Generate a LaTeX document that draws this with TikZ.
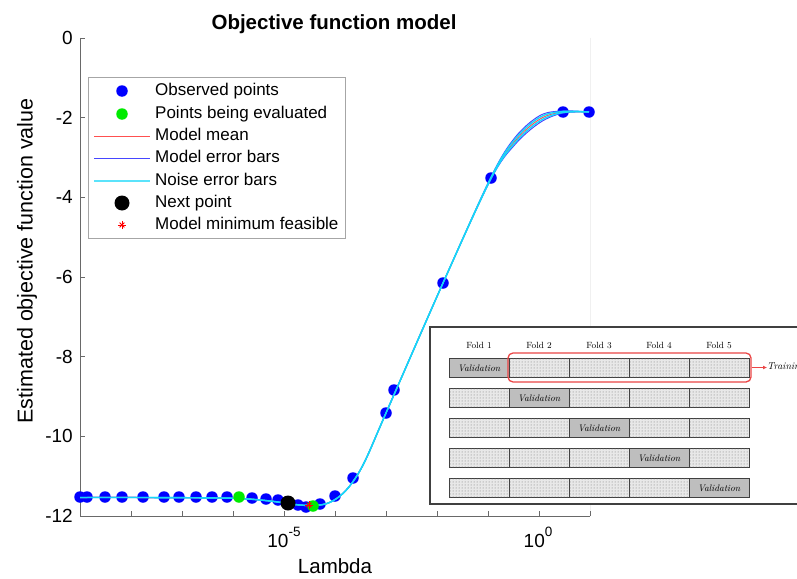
\documentclass[tikz,border=0pt]{standalone}
\usepackage{amsmath}
\usepackage{amssymb}
\usepackage{fontspec}
\newfontfamily\plotfont{Liberation Sans}
\usetikzlibrary{positioning,patterns,arrows.meta}

\definecolor{axisgray}{RGB}{105,105,105}
\definecolor{obsblue}{RGB}{0,0,255}
\definecolor{evalgreen}{RGB}{0,235,0}
\definecolor{meanred}{RGB}{255,80,80}
\definecolor{barblue}{RGB}{70,70,255}
\definecolor{noisecyan}{RGB}{20,215,250}
\definecolor{valgray}{RGB}{190,190,190}
\definecolor{cellgray}{RGB}{232,232,232}
\definecolor{boxred}{RGB}{235,70,70}

\tikzset{
  obs/.style={circle,fill=obsblue,inner sep=0pt,minimum size=11.5pt},
  evalpt/.style={circle,fill=evalgreen,inner sep=0pt,minimum size=11.5pt},
  nextpt/.style={circle,fill=black,inner sep=0pt,minimum size=15pt},
  ticklbl/.style={font=\plotfont\fontsize{19}{21}\selectfont,inner sep=0pt},
  legtxt/.style={font=\plotfont\fontsize{17}{19}\selectfont,anchor=west,inner sep=0pt,text height=12pt,text depth=3.5pt},
  fold/.style={font=\fontsize{9}{10}\selectfont,inner sep=0pt,anchor=base},
  trainc/.style={draw=black!75,line width=0.9pt,fill=cellgray,postaction={pattern=dots,pattern color=black!55},
    minimum width=60pt,minimum height=19pt,inner sep=0pt},
  valc/.style={draw=black!75,line width=0.9pt,fill=valgray,minimum width=60pt,minimum height=19pt,inner sep=0pt,
    font=\itshape\fontsize{9.5}{10}\selectfont},
}

% model curve, #1 = offset of the band near the plateau
\newcommand{\lambdacurve}[1]{plot[smooth,tension=0.55] coordinates {(80,497.5) (140,497.5) (200,497.8) (240,498.5)
  (270,501) (295,504.5) (312,505.5) (327,503.5) (340,496) (352,483) (365,461) (386,413) (443,283)
  (491,{178+0.3*(#1)}) (515,{141+(#1)}) (540,{119+(#1)}) (563,{112+0.3*(#1)}) (589,112)}}
% red star marker
\newcommand{\minstar}[1]{
  \draw[red,line width=0.8pt] plot[only marks,mark=+,mark size=4.2pt] coordinates {#1};
  \draw[red,line width=0.8pt] plot[only marks,mark=x,mark size=3.4pt] coordinates {#1};
}

\begin{document}
\begin{tikzpicture}[x=1pt,y=-1pt]
\useasboundingbox (0,0) rectangle (797,578);
\clip (0,0) rectangle (797,578);
\fill[white] (0,0) rectangle (797,578);

% axes
\coordinate (T) at (80,38);
\coordinate (O) at (80,516);
\coordinate (R) at (590,516);
\draw[gray!12] (R|-T) -- (R);
\draw[axisgray,line width=0.8pt] (T) -- (O) -- (R);
\foreach \y/\A in {38/0,117.7/-2,197.3/-4,277/-6,356.7/-8,436.3/-10,516/-12} {
    \draw[axisgray,line width=0.8pt] (80,\y) -- ++(5,0);
    \node[ticklbl,anchor=east] at (73,\y) {\A};
}
\foreach \x in {80,131,...,590}
    \draw[axisgray,line width=0.8pt] (\x,516) -- ++(0,-5);
\node[ticklbl,anchor=base] (tk5) at (284,547) {10\raisebox{0.55em}{\fontsize{13.5}{14}\selectfont -5}};
\node[ticklbl,anchor=base] (tk0) at (538,547) {10\raisebox{0.55em}{\fontsize{13.5}{14}\selectfont 0}};
\node[font=\plotfont\fontsize{20.5}{22}\selectfont,anchor=base] (xlbl) at (335,573) {Lambda};
\node[font=\plotfont\fontsize{21.5}{23}\selectfont,rotate=90,inner sep=0pt] (ylbl) at (27,261) {Estimated objective function value};
\node[font=\plotfont\bfseries\fontsize{20.5}{22}\selectfont,anchor=base] (title) at (334,29.5) {Objective function model};

% observed points
\foreach \x/\y [count=\i] in {80/497,87/497,105/497,122/497,143/497,164/497,179/497,196/497,212/497,227/497,
    252/498,266/499,278/500,298/505,306/507,320/504,335/496,353/478,386/413,394/390,443/283,491/178,563/112,589/112}
    \node[obs] (o\i) at (\x,\y) {};

% model curves
\draw[barblue,line width=1pt] \lambdacurve{-3.5};
\draw[barblue,line width=1pt] \lambdacurve{3.5};
\draw[meanred,line width=1pt] \lambdacurve{0};
\draw[noisecyan,line width=1.4pt] \lambdacurve{-1.8};
\draw[noisecyan,line width=1.4pt] \lambdacurve{1.8};

\node[evalpt] (e1) at (239,497) {};
\node[evalpt] (e2) at (313,506) {};
\node[nextpt] (nx) at (288,503) {};
\minstar{(309,505)}

% legend
\node[draw=gray!70,fill=white,minimum width=257pt,minimum height=161pt,inner sep=0pt] (legbox) at (216.5,157.5) {};
\node[obs] (lg1) at (122,91) {};
\node[evalpt] (lg2) at (122,114) {};
\draw[meanred,line width=1pt] (94,136) -- (150,136);
\draw[barblue,line width=1pt] (94,158) -- (150,158);
\draw[noisecyan!70!white,line width=1.4pt] (94,181) -- (150,181);
\node[nextpt] (lg6) at (122,203) {};
\minstar{(122,225)}
\foreach \y/\A in {91/Observed points,114/Points being evaluated,136/Model mean,158/Model error bars,
    181/Noise error bars,203/Next point,225/Model minimum feasible}
    \node[legtxt] at (155,\y) {\A};

% inset: 5-fold cross validation
\fill[white] (430,327) rectangle (820,504);
\draw[black!75,line width=2.5pt] (820,327) -- (430,327) -- (430,504) -- (820,504);
\foreach \c in {1,...,5} {
    \node[fold] (fold\c) at ({479+60*(\c-1)},348) {Fold \c};
    \foreach \r in {1,...,5} {
        \ifnum\r=\c
            \node[valc] (cell\r\c) at ({479+60*(\c-1)},{368+30*(\r-1)}) {Validation};
        \else
            \node[trainc] (cell\r\c) at ({479+60*(\c-1)},{368+30*(\r-1)}) {};
        \fi
    }
}
\node[draw=boxred,rounded corners=5pt,line width=1.3pt,minimum width=243pt,minimum height=29pt] (trainbox) at (629.5,367.5) {};
\node[font=\itshape\fontsize{10}{11}\selectfont,anchor=west,inner sep=0pt] (trainlbl) at (767,367.5) {Training};
\draw[boxred,line width=1pt,-{Latex[length=4pt,width=4pt]}] (trainbox.east) -- (trainlbl.west);
\end{tikzpicture}
\end{document}
